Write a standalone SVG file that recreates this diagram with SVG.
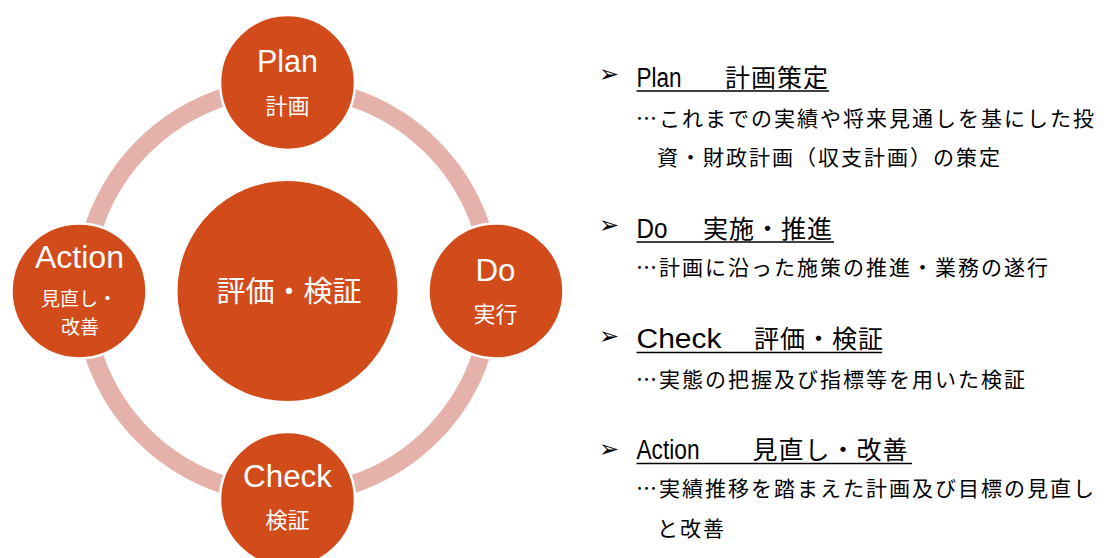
<svg xmlns="http://www.w3.org/2000/svg" width="1120" height="558" viewBox="0 0 1120 558">
  <style>
    .node { fill: #D24B1A; stroke: #FFFFFF; stroke-width: 2.5; }
    .core { fill: #D24B1A; }
    .ring { fill: none; stroke: #E5B1AB; stroke-width: 18; }
    .en { font-family: "Liberation Sans", Arial, sans-serif; fill: #FFFFFF; text-anchor: middle; }
    .jp { font-family: "Noto Sans CJK JP", "Noto Sans", sans-serif; fill: #FFFFFF; text-anchor: middle; }
    .hEn { font-family: "Liberation Sans", Arial, sans-serif; font-size: 27px; fill: #000000; }
    .hJp { font-family: "Noto Sans CJK JP", sans-serif; font-size: 25px; letter-spacing: 1px; fill: #000000; }
    .body { font-family: "Noto Sans CJK JP", sans-serif; font-size: 21px; letter-spacing: 2px; fill: #000000; }
    .bullet { font-family: "DejaVu Sans", sans-serif; font-size: 24px; fill: #000000; }
    .uline { stroke: #000000; stroke-width: 1.6; }
  </style>

  <!-- cycle ring running through the four stage nodes -->
  <g id="connectors">
    <circle class="ring" cx="287.5" cy="291" r="204"/>
  </g>

  <g id="node-center">
    <circle class="core" cx="287.5" cy="291" r="110"/>
    <text class="jp" x="289" y="302" font-size="29">評価・検証</text>
  </g>

  <g id="node-plan">
    <circle class="node" cx="287.5" cy="82.5" r="67.5"/>
    <text class="en" x="287.5" y="72" font-size="31" textLength="61" lengthAdjust="spacingAndGlyphs">Plan</text>
    <text class="jp" x="287.5" y="114" font-size="22">計画</text>
  </g>

  <g id="node-do">
    <circle class="node" cx="496" cy="291" r="67.5"/>
    <text class="en" x="495.5" y="281" font-size="31" textLength="40" lengthAdjust="spacingAndGlyphs">Do</text>
    <text class="jp" x="495.5" y="322" font-size="22">実行</text>
  </g>

  <g id="node-check">
    <circle class="node" cx="287.5" cy="499.5" r="67.5"/>
    <text class="en" x="287.5" y="487" font-size="31" textLength="89" lengthAdjust="spacingAndGlyphs">Check</text>
    <text class="jp" x="287.5" y="528" font-size="22">検証</text>
  </g>

  <g id="node-action">
    <circle class="node" cx="79" cy="291" r="67.5"/>
    <text class="en" x="79.5" y="268" font-size="31" textLength="89" lengthAdjust="spacingAndGlyphs">Action</text>
    <text class="jp" font-size="19"><tspan x="79" y="306">見直し・</tspan><tspan x="80" y="334">改善</tspan></text>
  </g>

  <!-- explanatory list -->
  <g id="list-plan">
    <text class="bullet" x="599" y="82">➢</text>
    <text class="hEn" x="636.5" y="87" textLength="45" lengthAdjust="spacingAndGlyphs">Plan</text>
    <text class="hJp" x="725" y="87">計画策定</text>
    <line class="uline" x1="636.5" y1="91" x2="829" y2="91"/>
    <text class="body" x="636" y="126">…これまでの実績や将来見通しを基にした投</text>
    <text class="body" x="657" y="165">資・財政計画（収支計画）の策定</text>
  </g>

  <g id="list-do">
    <text class="bullet" x="599" y="233">➢</text>
    <text class="hEn" x="636.5" y="238" textLength="31" lengthAdjust="spacingAndGlyphs">Do</text>
    <text class="hJp" x="703" y="238">実施・推進</text>
    <line class="uline" x1="636.5" y1="242" x2="834" y2="242"/>
    <text class="body" x="636" y="275">…計画に沿った施策の推進・業務の遂行</text>
  </g>

  <g id="list-check">
    <text class="bullet" x="599" y="344">➢</text>
    <text class="hEn" x="636.5" y="348" textLength="85" lengthAdjust="spacingAndGlyphs">Check</text>
    <text class="hJp" x="754" y="348">評価・検証</text>
    <line class="uline" x1="636.5" y1="352.5" x2="882" y2="352.5"/>
    <text class="body" x="636" y="387">…実態の把握及び指標等を用いた検証</text>
  </g>

  <g id="list-action">
    <text class="bullet" x="599" y="457">➢</text>
    <text class="hEn" x="636.5" y="459" textLength="63" lengthAdjust="spacingAndGlyphs">Action</text>
    <text class="hJp" x="752.5" y="459">見直し・改善</text>
    <line class="uline" x1="636.5" y1="463.5" x2="912" y2="463.5"/>
    <text class="body" x="636" y="496">…実績推移を踏まえた計画及び目標の見直し</text>
    <text class="body" x="657" y="536">と改善</text>
  </g>
</svg>
